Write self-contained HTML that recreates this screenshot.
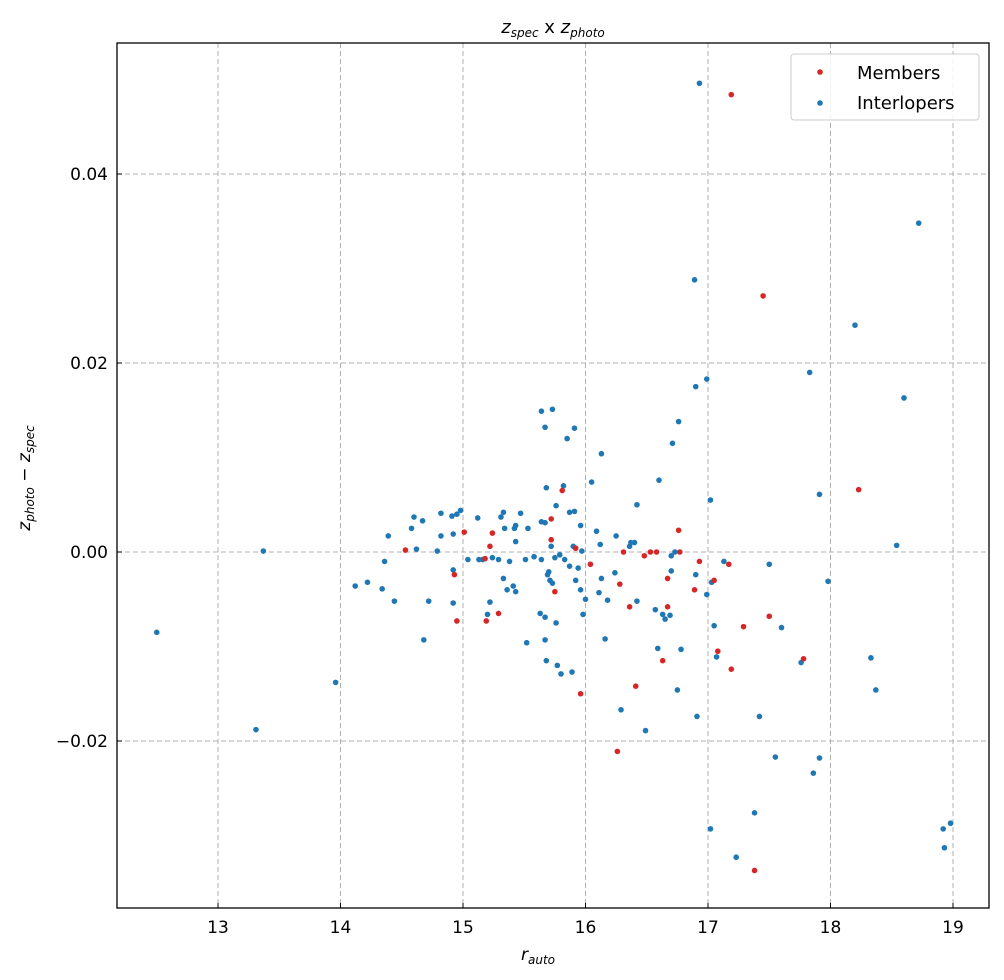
<!DOCTYPE html>
<html><head><meta charset="utf-8"><style>
html,body{margin:0;padding:0;background:#fff;}
svg{display:block;font-family:"DejaVu Sans","Liberation Sans",sans-serif;}
</style></head><body>
<svg id="chart" width="1004" height="980" viewBox="0 0 1004 980" xmlns="http://www.w3.org/2000/svg">
<rect x="0" y="0" width="1004" height="980" fill="#fff"/>
<g id="grid"></g>
<g id="ticks"></g>
<g id="interlopers"></g>
<g id="members"></g>
<rect x="117" y="43" width="872" height="865" fill="none" stroke="#000" stroke-width="1.3"/>
<text x="553" y="33" text-anchor="middle" font-size="18"><tspan font-style="italic">z</tspan><tspan font-style="italic" font-size="12" dy="4">spec</tspan><tspan dy="-4"> x </tspan><tspan font-style="italic">z</tspan><tspan font-style="italic" font-size="12" dy="4">photo</tspan></text>
<text x="538" y="960" text-anchor="middle" font-size="17"><tspan font-style="italic">r</tspan><tspan font-style="italic" font-size="12" dy="4">auto</tspan></text>
<text transform="translate(30,478) rotate(-90)" text-anchor="middle" font-size="17"><tspan font-style="italic">z</tspan><tspan font-style="italic" font-size="12" dy="4">photo</tspan><tspan dy="-4"> − </tspan><tspan font-style="italic">z</tspan><tspan font-style="italic" font-size="12" dy="4">spec</tspan></text>
<g>
<rect x="791" y="54" width="188" height="66" rx="3" fill="#fff" fill-opacity="0.85" stroke="#ccc" stroke-width="1"/>
<circle cx="820" cy="72" r="2.8" fill="#d62728"/>
<text x="857" y="79" font-size="18">Members</text>
<circle cx="820" cy="103" r="2.8" fill="#1f77b4"/>
<text x="857" y="109" font-size="18">Interlopers</text>
</g>
</svg>
<script>
const xTicks=[13,14,15,16,17,18,19];
const yTicks=[-0.02,0,0.02,0.04];
const yTickLabels=["\u22120.02","0.00","0.02","0.04"];
const membersX=[17.19,17.45,18.23,14.53,14.93,14.95,15.01,15.24,15.22,15.18,15.19,15.29,15.81,15.72,15.72,15.75,15.96,16.04,15.92,16.28,16.31,16.36,16.41,16.26,16.48,16.53,16.58,16.63,16.67,16.67,16.77,16.89,16.93,17.05,17.08,17.17,17.19,17.29,17.50,17.78,17.38,16.76];
const membersY=[0.0484,0.0271,0.0066,0.0002,-0.0024,-0.0073,0.0021,0.0020,0.0006,-0.0007,-0.0073,-0.0065,0.0065,0.0035,0.0013,-0.0042,-0.0150,-0.0013,0.0004,-0.0034,0.0000,-0.0058,-0.0142,-0.0211,-0.0004,0.0000,0.0000,-0.0115,-0.0028,-0.0058,0.0000,-0.0040,-0.0010,-0.0030,-0.0105,-0.0013,-0.0124,-0.0079,-0.0068,-0.0113,-0.0337,0.0023];
const interX=[12.50,13.31,13.37,13.96,14.12,14.22,14.34,14.36,14.39,14.44,14.58,14.60,14.62,14.68,14.67,14.72,14.79,14.82,14.82,14.91,14.92,14.92,14.92,14.98,14.95,15.04,15.12,15.13,15.16,15.20,15.22,15.24,15.29,15.31,15.33,15.33,15.34,15.36,15.38,15.41,15.42,15.43,15.43,15.43,15.47,15.51,15.52,15.53,15.58,15.63,15.64,15.67,15.67,15.64,15.67,15.68,15.67,15.64,15.73,15.68,15.69,15.70,15.71,15.72,15.73,15.75,15.76,15.76,15.77,15.80,15.79,15.82,15.83,15.85,15.87,15.87,15.89,15.90,15.91,15.91,15.92,15.94,15.96,15.96,15.97,15.98,16.00,16.05,16.09,16.11,16.12,16.13,16.13,16.16,16.18,16.24,16.25,16.29,16.36,16.37,16.42,16.42,16.40,16.49,16.57,16.59,16.60,16.63,16.65,16.69,16.70,16.70,16.71,16.73,16.76,16.75,16.78,16.90,16.91,16.90,16.89,16.93,16.99,16.99,17.02,17.02,17.03,17.05,17.07,17.13,17.23,17.42,17.38,17.50,17.55,17.60,17.76,17.83,17.86,17.91,17.91,17.98,18.20,18.33,18.37,18.54,18.60,18.72,18.92,18.98,18.93];
const interY=[-0.0085,-0.0188,0.0001,-0.0138,-0.0036,-0.0032,-0.0039,-0.0010,0.0017,-0.0052,0.0025,0.0037,0.0003,-0.0093,0.0033,-0.0052,0.0001,0.0041,0.0017,0.0038,0.0019,-0.0019,-0.0054,0.0044,0.0040,-0.0008,0.0036,-0.0008,-0.0008,-0.0066,-0.0053,-0.0006,-0.0008,0.0037,-0.0028,0.0042,0.0025,-0.0040,-0.0010,-0.0036,0.0025,-0.0042,0.0028,0.0011,0.0041,-0.0008,-0.0096,0.0025,-0.0005,-0.0065,0.0032,0.0031,-0.0093,-0.0008,-0.0069,-0.0115,0.0132,0.0149,0.0151,0.0068,-0.0024,-0.0021,-0.0030,0.0006,-0.0033,-0.0006,0.0049,-0.0075,-0.0120,-0.0129,-0.0003,0.0070,-0.0008,0.0120,-0.0015,0.0042,-0.0127,0.0006,0.0131,0.0043,-0.0030,-0.0017,-0.0040,0.0028,0.0001,-0.0066,-0.0050,0.0074,0.0022,-0.0043,0.0008,-0.0028,0.0104,-0.0092,-0.0051,-0.0022,0.0017,-0.0167,0.0006,0.0010,-0.0052,0.0050,0.0010,-0.0189,-0.0061,-0.0102,0.0076,-0.0066,-0.0071,-0.0067,-0.0020,-0.0004,0.0115,0.0000,0.0138,-0.0146,-0.0103,-0.0024,-0.0174,0.0175,0.0288,0.0496,0.0183,-0.0045,0.0055,-0.0293,-0.0032,-0.0078,-0.0111,-0.0010,-0.0323,-0.0174,-0.0276,-0.0013,-0.0217,-0.0080,-0.0117,0.0190,-0.0234,0.0061,-0.0218,-0.0031,0.0240,-0.0112,-0.0146,0.0007,0.0163,0.0348,-0.0293,-0.0287,-0.0313];

const L=117,R=989,T=43,B=908;
function sx(v){return 218+(v-13)*122.5;}
function sy(v){return 552-v*9450;}
const NS="http://www.w3.org/2000/svg";
function mk(tag,attrs,parent){const e=document.createElementNS(NS,tag);for(const k in attrs)e.setAttribute(k,attrs[k]);parent.appendChild(e);return e;}
const grid=document.getElementById('grid'),ticks=document.getElementById('ticks');
xTicks.forEach(function(t){
  const x=sx(t);
  const g=mk('line',{x1:x,x2:x,y1:T,y2:B,stroke:'#b0b0b0','stroke-width':1,'stroke-dasharray':'5,3'},grid);
  
  
  const tk=mk('line',{x1:x,x2:x,y1:B,y2:B-5,stroke:'#000','stroke-width':1},ticks);
  
  
  const tx=mk('text',{x:x,y:B+25,'text-anchor':'middle','font-size':17},ticks);
  tx.textContent=String(t);
  
  
});
yTicks.forEach(function(t,i){
  const y=sy(t);
  const g=mk('line',{x1:L,x2:R,y1:y,y2:y,stroke:'#b0b0b0','stroke-width':1,'stroke-dasharray':'5,3'},grid);
  
  
  const tk=mk('line',{x1:L,x2:L+5,y1:y,y2:y,stroke:'#000','stroke-width':1},ticks);
  
  
  const tx=mk('text',{x:L-9,y:y+6,'text-anchor':'end','font-size':17},ticks);
  tx.textContent=yTickLabels[i];
  
  
});
const gi=document.getElementById('interlopers');
interX.forEach(function(v,i){
  const c=mk('circle',{cx:sx(v),cy:sy(interY[i]),r:2.8,fill:'#1f77b4'},gi);
  
  
});
const gm=document.getElementById('members');
membersX.forEach(function(v,i){
  const c=mk('circle',{cx:sx(v),cy:sy(membersY[i]),r:2.8,fill:'#d62728'},gm);
  
  
});
</script>
</body></html>
